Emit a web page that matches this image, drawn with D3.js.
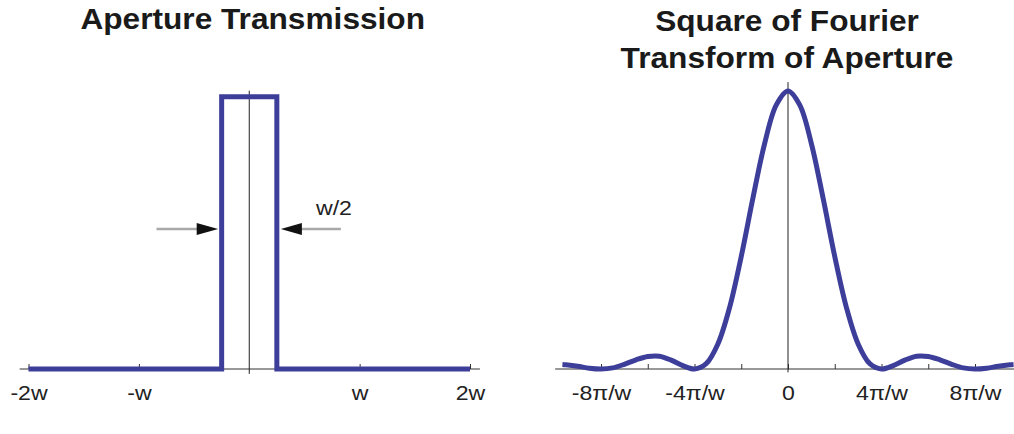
<!DOCTYPE html>
<html>
<head>
<meta charset="utf-8">
<script src="https://cdn.jsdelivr.net/npm/d3@7"></script>
<style>
  html, body { margin: 0; padding: 0; background: #fff; }
  svg { display: block; font-family: "Liberation Sans", Arial, Helvetica, sans-serif; }
</style>
</head>
<body>
<svg id="chart" width="1014" height="434"></svg>
<script>
// ---------- Data ----------
// Left panel: aperture transmission (x in units of w)
const apertureX = [-2, -0.25, -0.25, 0.25, 0.25, 2];
const apertureY = [0, 0, 1, 1, 0, 0];
const leftTickValues = [-2, -1, 1, 2];
const leftTickLabels = ["-2w", "-w", "w", "2w"];

// Right panel: square of Fourier transform (x in units of pi/w)
const fourierX = [-9.65, -9.5, -9, -8.5, -8, -7.5, -7, -6.5, -6, -5.5, -5, -4.5, -4, -3.5, -3, -2.5, -2, -1.5, -1, -0.5, 0,
                  0.5, 1, 1.5, 2, 2.5, 3, 3.5, 4, 4.5, 5, 5.5, 6, 6.5, 7, 7.5, 8, 8.5, 9, 9.5, 9.65];
const fourierY = [0.016, 0.015, 0.010, 0.003, 0, 0.004, 0.017, 0.033, 0.045, 0.046, 0.032, 0.012, 0, 0.019, 0.090, 0.221, 0.405, 0.615, 0.811, 0.950, 1,
                  0.950, 0.811, 0.615, 0.405, 0.221, 0.090, 0.019, 0, 0.012, 0.032, 0.046, 0.045, 0.033, 0.017, 0.004, 0, 0.003, 0.010, 0.015, 0.016];
const rightTickValues = [-8, -6, -4, -2, 0, 2, 4, 6, 8];
const rightLabelValues = [-8, -4, 0, 4, 8];
const rightTickLabels = ["-8\u03C0/w", "-4\u03C0/w", "0", "4\u03C0/w", "8\u03C0/w"];

const titleLeft = ["Aperture Transmission"];
const titleRight = ["Square of Fourier", "Transform of Aperture"];
const widthLabel = "w/2";

// ---------- Styles ----------
const BLUE = "#3d3e9a";
const AXIS = "#333";
const ARROW_GRAY = "#a9a9a9";
const TEXT_STRETCH = 1.1;
const TITLE_STRETCH = 1.055;

const svg = d3.select("#chart");

// ---------- Left panel ----------
const xL = d3.scaleLinear().domain([-2, 2]).range([28.5, 470]);
const yL = d3.scaleLinear().domain([0, 1]).range([369, 96.7]);

const gL = svg.append("g");

gL.append("line")
  .attr("x1", xL(-2.08)).attr("x2", xL(2.09))
  .attr("y1", yL(0)).attr("y2", yL(0))
  .attr("stroke", AXIS).attr("stroke-width", 1);

const axL = d3.axisBottom(xL)
  .tickValues(leftTickValues)
  .tickFormat((d, i) => leftTickLabels[i])
  .tickSizeInner(-5).tickSizeOuter(0).tickPadding(16);
const axLG = gL.append("g").attr("transform", `translate(0,${yL(0)})`).call(axL);
axLG.select(".domain").remove();
axLG.selectAll(".tick line").attr("stroke", AXIS);
axLG.selectAll(".tick text").attr("font-size", 21).attr("fill", "#222")
  .attr("font-family", "Liberation Sans, Arial, sans-serif")
  .attr("transform", `scale(${TEXT_STRETCH},1)`);

gL.append("line")
  .attr("x1", xL(0)).attr("x2", xL(0))
  .attr("y1", yL(1.022)).attr("y2", yL(-0.018))
  .attr("stroke", "#222").attr("stroke-width", 1);

const lineL = d3.line().x(i => xL(apertureX[i])).y(i => yL(apertureY[i]));
gL.append("path")
  .attr("d", lineL(d3.range(apertureX.length)))
  .attr("fill", "none").attr("stroke", BLUE).attr("stroke-width", 5)
  .attr("stroke-linejoin", "miter");

// arrows
const arrowY = yL(0.514);
gL.append("line").attr("x1", xL(-0.84)).attr("x2", xL(-0.25) - 20)
  .attr("y1", arrowY).attr("y2", arrowY).attr("stroke", ARROW_GRAY).attr("stroke-width", 2.5);
gL.append("path")
  .attr("d", `M${xL(-0.25) - 3.5},${arrowY} L${xL(-0.25) - 25},${arrowY - 6} L${xL(-0.25) - 25},${arrowY + 6} Z`)
  .attr("fill", "#111");
gL.append("line").attr("x1", xL(0.25) + 20).attr("x2", xL(0.83))
  .attr("y1", arrowY).attr("y2", arrowY).attr("stroke", ARROW_GRAY).attr("stroke-width", 2.5);
gL.append("path")
  .attr("d", `M${xL(0.25) + 4},${arrowY} L${xL(0.25) + 25},${arrowY - 6} L${xL(0.25) + 25},${arrowY + 6} Z`)
  .attr("fill", "#111");

gL.append("text")
  .attr("transform", `translate(${xL(0.605)},${yL(0.566)}) scale(${TEXT_STRETCH},1)`)
  .attr("font-size", 21).attr("fill", "#222")
  .text(widthLabel);

gL.selectAll("text.title").data(titleLeft).join("text")
  .attr("class", "title")
  .attr("transform", (d, i) => `translate(252.7,${28.8 + i * 37.5}) scale(${TITLE_STRETCH},1)`)
  .attr("text-anchor", "middle")
  .attr("font-size", 30).attr("font-weight", "bold").attr("fill", "#1a1a1a")
  .text(d => d);

// ---------- Right panel ----------
const xR = d3.scaleLinear().domain([0, 8]).range([788, 975]);
const yR = d3.scaleLinear().domain([0, 1]).range([369, 91]);

const gR = svg.append("g");

gR.append("line")
  .attr("x1", xR(-9.96)).attr("x2", 1014)
  .attr("y1", yR(0)).attr("y2", yR(0))
  .attr("stroke", AXIS).attr("stroke-width", 1);

const axR = d3.axisBottom(xR)
  .tickValues(rightTickValues)
  .tickFormat(d => {
    const k = rightLabelValues.indexOf(d);
    return k >= 0 ? rightTickLabels[k] : "";
  })
  .tickSizeInner(-5).tickSizeOuter(0).tickPadding(16);
const axRG = gR.append("g").attr("transform", `translate(0,${yR(0)})`).call(axR);
axRG.select(".domain").remove();
axRG.selectAll(".tick line").attr("stroke", AXIS);
axRG.selectAll(".tick text").attr("font-size", 21).attr("fill", "#222")
  .attr("font-family", "Liberation Sans, Arial, sans-serif")
  .attr("transform", `scale(${TEXT_STRETCH},1)`);

gR.append("line")
  .attr("x1", xR(0)).attr("x2", xR(0))
  .attr("y1", yR(1.032)).attr("y2", yR(-0.012))
  .attr("stroke", "#222").attr("stroke-width", 1);

const lineR = d3.line()
  .x(i => xR(fourierX[i]))
  .y(i => yR(fourierY[i]))
  .curve(d3.curveCatmullRom.alpha(0.5));
gR.append("path")
  .attr("d", lineR(d3.range(fourierX.length)))
  .attr("fill", "none").attr("stroke", BLUE).attr("stroke-width", 5)
  .attr("stroke-linejoin", "round");

gR.selectAll("text.title").data(titleRight).join("text")
  .attr("class", "title")
  .attr("transform", (d, i) => `translate(787,${30.8 + i * 37.5}) scale(${TITLE_STRETCH},1)`)
  .attr("text-anchor", "middle")
  .attr("font-size", 30).attr("font-weight", "bold").attr("fill", "#1a1a1a")
  .text(d => d);
</script>
</body>
</html>
